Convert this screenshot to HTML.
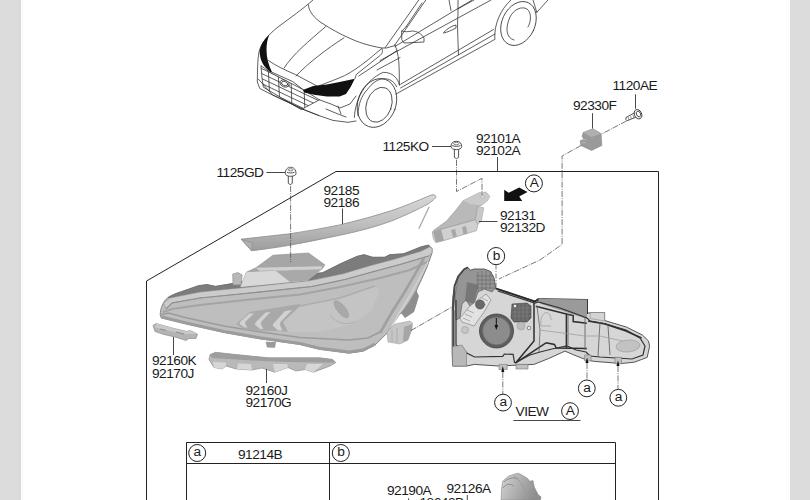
<!DOCTYPE html>
<html><head><meta charset="utf-8"><style>
html,body{margin:0;padding:0;width:810px;height:500px;overflow:hidden;background:#fff}
.strip{position:absolute;top:0;height:500px;background:#dcdcdc}
svg{position:absolute;left:0;top:0}
text{font-family:"Liberation Sans",sans-serif;font-size:13.7px;letter-spacing:-0.5px;fill:#1a1a1a}
</style></head><body>
<div class="strip" style="left:0;width:21px;background:linear-gradient(90deg,#dcdcdc 0,#dcdcdc 17px,#d8d8d8 21px)"></div><div class="strip" style="left:22px;width:1px;background:#f8f8f8"></div>
<div class="strip" style="left:786px;width:4px;background:#fcfcfc"></div><div class="strip" style="left:790px;width:20px"></div>
<svg width="810" height="500" viewBox="0 0 810 500">

<!-- car -->
<g fill="none" stroke="#2a2a2a" stroke-width="0.75" stroke-linejoin="round" stroke-linecap="round">
<path d="M313,0 C303,9 290,18 278,27 C268,35 261,43 259,52 C257.5,60 257.5,72 257.3,82 L259.8,88.5 L272.5,95 L303,109.3 L319,115.6 L333,120.4 L348,122.3 L356,121"/>
<path d="M258.3,79 L272.4,94.8 L302.8,109.2 L318.8,115.6"/>
<path d="M308.4,4.8 C308.5,11 314,18 322,23.2 C331,29 340,34 350,38.4 C358,42 366,45 381.6,48 L386.4,48 L394.8,45.6"/>
<path d="M325.6,26.7 C310,40 292,55 284.1,68.1"/>
<path d="M344,37.8 C328,48 308,63 296,76"/>
<path d="M268.5,60.5 C276,66 285,70 295.6,74.6 L317.5,86.3 C328,82.5 338,78.5 344.5,75.7 C352,72 360,66 365,62.2 C370,58.5 375,54 378,51.5 L381.4,49"/>
<path d="M271,71.8 L292.8,81.6 L302.6,89.3"/>
<path d="M261,66 L262,78 L263.4,87.2 L301.2,109.6 L319.4,99.8 L302.6,89.3 L271,73 Z"/>
<clipPath id="grl"><path d="M261,66 L262,78 L263.4,87.2 L301.2,109.6 L319.4,99.8 L302.6,89.3 L271,73 Z"/></clipPath>
<g clip-path="url(#grl)"><path d="M250,68 L330,106 M250,73 L330,111 M250,78 L330,116 M250,83 L330,121 M250,88 L330,126 M250,63 L330,101 M268,65 L270,100 M278,70 L280,106 M291,76 L292,112 M304,84 L305,115"/></g>
<ellipse cx="284.6" cy="83.6" rx="4.8" ry="3.3" transform="rotate(22 284.6 83.6)" fill="#fff"/><ellipse cx="284.6" cy="83.6" rx="3.2" ry="2.1" transform="rotate(22 284.6 83.6)"/>
<path d="M319.4,99.8 L331,104 L340,108 L350,104 L356,96 M326,109 L338,114 L346,117 M338,106 L341,114"/>
<path d="M381.6,48 C383,50 383,53 380.4,55.2 L356.4,74.4 L355,78.5 M397.2,50.4 L358.8,76 M400,57.6 L377,70"/>
<path d="M385.2,47.6 L418.8,0 M395,44.8 L425.8,0 M406.2,26.6 L422,3"/>
<path d="M395,46.5 L472,0 M380,60.6 L491,0 M457.8,8.9 L474,0"/>
<path d="M395,44.8 C398,52 399,60 399.2,70 L399.4,85"/>
<path d="M458,0 L458,14 C457,25 458,40 458.5,54.8 M449,0 L451,10.4"/>
<path d="M400.5,84.3 L493.5,29.5 M400.5,88 L495,34 M396,94 L495,39.3"/>
<path d="M354.4,117.4 C355,100 365,80 383.2,72.4 C392,72 398,78 399.4,85"/>
<path d="M358,115.6 C358,104 362,95 367,90 C372,83 378,79 383.2,78.7 C389,78.5 394,81 396.7,86.8"/>
<ellipse cx="377" cy="103" rx="19" ry="25" transform="rotate(20 377 103)"/>
<ellipse cx="379" cy="104.8" rx="12.5" ry="18" transform="rotate(20 379 104.8)"/>
<path d="M494.8,38.5 C494,25 500,10 510.9,0 M536.8,12.3 L548,0 M533,0 L536.8,12.3"/>
<ellipse cx="518.5" cy="23.5" rx="16.5" ry="23" transform="rotate(25 518.5 23.5)"/>
<path d="M514,40 C506,38 505,28 510,17 C514,9 522,6 527,9 C532,13 531,22 528,27" />
<path d="M402,31 C404,32 408,32 412,31 C417,31 422,34 424,38 L424,42 L404,43 L402,40 Z M402,31 L406.2,26.6"/>
<path d="M444,32 C448,28 452,26 456,25 L456,28 C452,30 448,32 444,33 Z"/>
</g>
<path d="M269.3,34.8 C263.5,40 260,46 259.7,52 C259.8,60 263.5,67 270.8,72.4 L271.8,71.4 C268.5,65 266.6,58 266.5,50 C266.6,44 267.3,39.5 269.3,34.8 Z" fill="#111"/>
<path d="M302.8,90 L313.2,86 L326.8,84.4 L339.6,82 L354.8,78.8 L350.8,86.8 L346,94 L339.6,96.4 L326.8,96.4 L314,94.8 L304.4,92.4 Z" fill="#111"/>


<!-- trim strip 92185 -->
<defs>
<linearGradient id="gStrip" x1="0" y1="0" x2="0" y2="1">
<stop offset="0" stop-color="#d8d8d8"/><stop offset="0.5" stop-color="#c0c0c0"/><stop offset="1" stop-color="#9c9c9c"/>
</linearGradient>
<linearGradient id="gLamp" x1="0" y1="0" x2="0.2" y2="1">
<stop offset="0" stop-color="#c8c8c8"/><stop offset="1" stop-color="#b4b4b4"/>
</linearGradient>
</defs>
<path d="M241.2,239.2 C260,237 275,235.5 287.9,234 C305,231.5 322,228.5 339.7,224.9 C360,220 376,215.5 391.6,210.6 C405,206 417,201 427.9,196.4 L432,194.8 C435,194.5 436.5,196 435.6,197.5 C434.5,199 433.5,199.8 433,200.3 C431,201.8 429.5,203 427.9,204.1 C417,210 405,215.5 391.6,221 C375,227 358,231.5 339.7,235.3 C322,239 305,242.5 287.9,245.6 C273,248 262,249.5 251.6,250.8 Z" fill="url(#gStrip)" stroke="#8a8a8a" stroke-width="0.8"/>
<path d="M241.2,239.2 L251.6,250.8 L252.5,243 Z" fill="#b0b0b0" stroke="#8a8a8a" stroke-width="0.6"/>
<path d="M429.2,206.7 L418.8,228.8" stroke="#a8a8a8" stroke-width="1.3" fill="none"/>

<!-- headlamp main -->
<path d="M160.2,314.8 C160.5,308 163,301.5 168,297.5 L172.3,295 L176.7,293.3 L198.2,286.3 L206.8,284.7 L215.5,286.4 L231,283.8 L245,281 L300,275 L322.5,272.8 L340,264 L357,256.4 L364,254.7 L372.6,257.3 L384.7,257.3 L389.9,254.7 L403.7,253.8 L421,246.9 L428.6,245.1 L432.1,248.6 L432,253 L427,267 L421.6,279.4 L417.4,288 L414.3,298 L408.4,305.8 L398.5,315.7 L386.7,333.5 L374.8,345.3 L363,351.2 L349.1,353.2 L319.5,349.3 L300,344.4 L261,338.9 L224,332.4 L187,324 L161.1,317.6 Z" fill="#bebebe" stroke="#7a7a7a" stroke-width="0.9"/>
<!-- dark housing top -->
<path d="M168,297.5 L176.7,293.3 L198.2,285.6 L206.8,284.4 L215.5,286.4 L231,283.8 L245,281 L300,275 L322.5,272.8 L340,264 L357,256.4 L364,254.7 L372.6,257.3 L384.7,257.3 L389.9,254.7 L403.7,253.8 L421,246.9 L428.6,245.1 L429.6,246.9 L421,251.2 L395,259 L369.1,265.9 L343.2,273.7 L310.4,280.6 L250,287 L200,292 L172,297.5 Z" fill="#7c7c7c" stroke="#6a6a6a" stroke-width="0.6"/>
<!-- chrome upper band -->
<path d="M163.5,303 L170,298 L200,292 L250,287 L310.4,280.6 L343.2,273.7 L369.1,265.9 L395,259 L421,251.2 L429.6,246.9 L432.1,248.6 L432,253 L428.5,256 L400,264.5 L372,272 L345,279.5 L312,286.5 L250,293 L200,298 L172,303 L166,309 Z" fill="#cbcbcb" stroke="#8f8f8f" stroke-width="0.6"/>
<path d="M166,309 L172,303 L200,298 L250,293 L312,286.5 L345,279.5 L372,272 L400,264.5 L428.5,256" fill="none" stroke="#8e8e8e" stroke-width="1.1"/>
<path d="M163,312 L172,309 L200,305 L250,299.5 L300,294.5 L340,287 L380,278 L410,270 L427,262" fill="none" stroke="#a4a4a4" stroke-width="2.2"/>
<!-- lens lower rim -->
<path d="M160.2,314.8 L168.5,313 L187,318 L224,326 L261,332 L300,337.5 L349.1,340 L368,338 L380,332" fill="none" stroke="#9c9c9c" stroke-width="1.6"/>
<path d="M161.5,317 L187,323.2 L224,331.5 L261,338 L300,343.5 L319.5,348.3 L349,352 L363,350 L375,344" fill="none" stroke="#9c9c9c" stroke-width="3"/>
<!-- right bezel -->
<path d="M380,333 L392,312 L404,293 L414,276 L424,258" fill="none" stroke="#a0a0a0" stroke-width="2.6"/>
<path d="M387,335 L398,315 L409,297 L418,281 L428,262" fill="none" stroke="#d2d2d2" stroke-width="1.5"/>
<path d="M401,313 L409,302 L416,290 L419,296 L416,306 L414,312 L405,318 Z" fill="#8e8e8e"/>
<!-- chevrons -->
<path d="M236,324 L250,312 L300,304 L300,332 L246,330 Z" fill="#a9a9a9"/>
<g fill="#d2d2d2">
<path d="M239.3,323.7 Q240,321.5 242,320 L249.5,313.5 L254,313.5 L245.5,321.5 Q244.5,323.5 245.8,325 L247.5,327.5 L244.4,327.4 Z"/>
<path d="M254.8,324.5 Q255.5,322 257.5,320.5 L265.5,312.5 L270.5,312 L261.5,321.5 Q260.3,323.8 261.5,325.5 L263.5,329 L260,329 Z"/>
<path d="M272.6,325.5 Q273.3,323 275.5,321.5 L285,311 L292,310 L280.5,322 Q279.3,324.5 280.5,326.5 L282.5,330.5 L278,330.5 Z"/>
</g>
<path d="M283,322 L300,306 L340,298 L375,286 L380,290 L372,310 L350,325 L320,332 L288,332 Z" fill="#c4c4c4"/>
<path d="M300,306 L340,298 L375,286" fill="none" stroke="#adadad" stroke-width="1.5"/>
<ellipse cx="341.3" cy="309.2" rx="10.5" ry="4" fill="#a9a9a9" stroke="#999" stroke-width="0.6" transform="rotate(51 341.3 309.2)"/>
<path d="M330,315 C335,322 345,326 355,322" fill="none" stroke="#b0b0b0" stroke-width="1"/>
<!-- small tab / bracket left on top -->
<path d="M232.7,274 L238,272.6 L242.2,275 L241,284.8 L233,285 Z" fill="#b8b8b8" stroke="#8a8a8a" stroke-width="0.6"/>
<!-- inner cover top piece -->
<path d="M240.4,287 L246.3,272.2 L255.9,267.8 L273,255.2 L308.5,253 L324.8,264.8 L322.6,268.5 L307,280.4 Z" fill="#a6a6a6" stroke="#8e8e8e" stroke-width="0.6"/>
<path d="M246.3,272.2 L322.6,268.5 L307,280.4 L240.4,287 Z" fill="#d8d8d8"/>
<path d="M276,271 L322.6,268.5 L307,280.4 L290,282 Z" fill="#a9a9a9"/>
<path d="M255.9,267.8 L322.6,266.3 L321,269.2 L259.5,270.7 Z" fill="#d0d0d0"/>
<!-- bottom tab -->
<path d="M265.6,341.7 L276,342 L275,347.8 L267,347.5 Z" fill="#9a9a9a"/>
<!-- lamp right bracket -->
<path d="M387,332 L395,324 L410,321 L412.5,323 L412,329 L408,340 L400,344 L388,342 Z" fill="#c6c6c6" stroke="#999" stroke-width="0.5"/>
<path d="M404,327 L412,324 L412,329 L408,340 L403,342 Z" fill="#a6a6a6"/>
<path d="M392,330 L392,342 M397,328 L397,343" stroke="#a8a8a8" stroke-width="0.8"/>

<!-- small bracket 92160K -->
<path d="M153,325.5 L156,323.5 L172,328 L187,331.5 L190,330.5 L197.5,334 L196,338.5 L189,338.5 L186,340.5 L175,337 L164,334.5 L155,331.5 Z" fill="#b4b4b4" stroke="#8c8c8c" stroke-width="0.7"/>
<path d="M156,323.5 L172,328 L187,331.5 L190,330.5 L197.5,334 L186,334 L172,331.5 L155,327.5 Z" fill="#c8c8c8"/>
<path d="M160,329 L166,330.5 M176,332 L184,334" stroke="#8f8f8f" stroke-width="1.2"/>
<!-- bracket 92160J -->
<path d="M209,359.4 L210,354.6 L215.4,352.3 L236.3,354.6 L268.4,357.8 L300,357.8 L319.8,357.8 L332.6,359.4 L335.8,362.6 L330,366 L313.4,372.2 L305,369.5 L296,371 L288,367.5 L274.8,372.2 L262,368 L252,370 L236.3,369 L226,366 L222,369 L213.8,367.4 Z" fill="#b9b9b9" stroke="#8c8c8c" stroke-width="0.7"/>
<path d="M210,354.6 L215.4,352.3 L236.3,354.6 L268.4,357.8 L319.8,357.8 L332.6,359.4 L335.8,362.6 L320,362.5 L290,362 L262,361 L236,359.5 L212,358 Z" fill="#9e9e9e"/>
<g fill="#d6d6d6"><path d="M213,362 L226,362.5 L226,366 L222,369 L213.8,367.4 Z"/><path d="M238,363.5 L251,364 L252,370 L237,369 Z"/><path d="M273,364 L287,364 L288,367.5 L274.8,372.2 Z"/><path d="M307,364 L323,364 L313.4,372.2 L305,369.5 Z"/></g>
<!-- bracket 92131 -->
<path d="M433.4,230.6 L446.6,221 L456,210 L463.4,200.6 L479,192.8 L486.2,192.2 L489.8,196.4 L487.4,200.6 L481.4,205.4 L477.8,206.6 L475.4,219.8 L446,228 Z" fill="#b9b9b9" stroke="#8e8e8e" stroke-width="0.6"/>
<path d="M463.4,200.6 L479,192.8 L486.2,192.2 L489.8,196.4 L487.4,200.6 L481.4,205.4 L470,204 Z" fill="#cacaca"/>
<path d="M477.8,206.6 L483.8,207.8 L481.4,221 L477.8,224.6 L475.4,219.8 Z" fill="#c8c8c8" stroke="#9a9a9a" stroke-width="0.5"/>
<path d="M432.2,231.8 L475.4,219.8 L477.8,224.6 L476.6,230.6 L445.4,240.2 L435.8,242.6 L433.4,239 Z" fill="#d0d0d0" stroke="#959595" stroke-width="0.6"/>
<path d="M433,231.5 L441,229.5 L444,240.5 L436,242.5 Z" fill="#a4a4a4"/>
<path d="M451,230 L455,229 L457,236.5 L453,237.5 Z M462,227 L466,226 L467.5,233.5 L463.5,234.5 Z" fill="#a8a8a8"/>
<ellipse cx="482.6" cy="197" rx="1.6" ry="1.2" fill="#eee" stroke="#888" stroke-width="0.4"/>
<!-- bracket 92330F -->
<path d="M583.2,132.4 L592.8,128.8 L601.2,133.6 L601.8,145.6 L591.6,150.4 L580.8,145.6 L580.2,140.8 L584,139 L582,136.5 Z" fill="#9a9a9a" stroke="#7a7a7a" stroke-width="0.5"/>
<path d="M583.2,132.4 L592.8,128.8 L601.2,133.6 L591.6,137 Z" fill="#b0b0b0"/>
<path d="M582,140 L586,139.5 M581.5,143 L586,142.5" stroke="#c0c0c0" stroke-width="0.7"/>

<!-- bolts -->
<g fill="#fff" stroke="#333" stroke-width="0.85">
<path d="M288.3,175 V183.3 Q290.3,186 292.3,183.3 V175"/>
<path d="M285.3,173.5 C285.3,169.5 287.5,167.3 290.6,167.3 C293.7,167.3 296,169.5 296,173.5 C296,175.3 293.5,176.3 290.6,176.3 C287.7,176.3 285.3,175.3 285.3,173.5 Z"/>
<path d="M287,172.2 C288.5,173.2 292.8,173.2 294.4,172.2" fill="none"/>
<ellipse cx="290.6" cy="169.8" rx="2.4" ry="1.1" fill="none" stroke-width="0.6"/>
<path d="M454.4,149 V157.3 Q456.5,160.2 458.6,157.3 V149"/>
<path d="M451,146.5 C451,143 453,141.3 456.3,141.3 C459.6,141.3 461.7,143 461.7,146.5 C461.7,148.5 459,149.6 456.3,149.6 C453.5,149.6 451,148.5 451,146.5 Z"/>
<path d="M452.2,145.6 C454,146.6 458.8,146.6 460.5,145.6" fill="none"/>
<ellipse cx="456.3" cy="143.6" rx="2.6" ry="1.2" fill="none" stroke-width="0.6"/>
<path d="M636,112 L626,117.5 Q625,119.5 627,120.8 L637.5,116.5"/>
<ellipse cx="638" cy="114.2" rx="3.6" ry="4.9" transform="rotate(-25 638 114.2)"/>
<ellipse cx="638.5" cy="114" rx="2" ry="3" transform="rotate(-25 638.5 114)"/>
</g>
<path d="M628,117 L629,120 M630.5,116 L631.5,119 M633,115 L634,118" stroke="#555" stroke-width="0.6"/>

<!-- dashed lines -->
<g fill="none" stroke="#555" stroke-width="0.8" stroke-dasharray="6,1.2,1,1.2">
<path d="M290.6,186 V262.4"/>
<path d="M456.5,160 V191.5 L482,178.3 V195"/>
<path d="M626.4,121 L602.4,133.6 M580.8,145.6 L562.1,156 V244.4 L540,260 L498.8,279"/>
<path d="M411,330.5 L452,307"/>
</g>
<path d="M496,264.5 V326" fill="none" stroke="#555" stroke-width="0.8" stroke-dasharray="5,1.5,1,1.5"/>

<!-- arrow -->
<path d="M504.2,201 L504.2,189.7 L508.7,192.7 L519.2,187.5 L527.5,192 L519.2,196.5 L522.2,201 Z" fill="#111"/>


<!-- rear view assembly -->
<g>
<path d="M452.2,310 L453,296 L454.6,286 L458.2,276.4 L464.2,269.2 L467.8,267.4 L470.2,270.4 L473.8,269.2 L484.6,269.2 L490.6,271.6 L494.2,278.8 L495.4,288 L497.7,288.6 L535,301 L538,298.8 L587,299.6 L587,313 L590.2,313 L590.2,312.5 L604.6,312.5 L604.6,320.5 L626.3,327 L642.4,335 L648.5,341 L649.6,346.2 L647.2,357.4 L641.5,359.5 L634.3,362.2 L621.5,363.5 L594.2,361.4 L585.5,359.5 L574,355 L565,351.1 L548.7,358.5 L533.9,364.4 L498.3,366 L474.6,364.4 L466.5,366 L452.6,366 L452.2,352 Z" fill="#d6d6d6" stroke="#555" stroke-width="1"/>
<!-- top-left dark cap -->
<path d="M455,296 L458.2,276.4 L464.2,269.2 L467.8,267.4 L470.2,270.4 L473.8,269.2 L484.6,269.2 L490.6,271.6 L494.2,278.8 L495.4,288 L492,292 L484,289 L478,292 L474,304 L470,306 L466,300 L462,304 L460,318 L456,320 Z" fill="#959595" stroke="#555" stroke-width="0.6"/>
<path d="M467,282 L478,285 L474,304 L465,301 Z" fill="#777"/>
<g stroke="#6c6c6c" stroke-width="0.7" fill="none"><path d="M478,272 V292 M482,271 V291 M486,271 V290 M490,272 V289 M476,276 H494 M476,280 H494.5 M476,284 H495 M476,288 H495"/></g>
<path d="M453,310 L454.6,286 L458.2,276.4 L464.2,269.2 L467.8,267.4" fill="none" stroke="#4a4a4a" stroke-width="2"/>
<path d="M453.5,310 L453.5,350" fill="none" stroke="#4a4a4a" stroke-width="2"/>
<!-- label plate -->
<path d="M460,318 L470,306 L486,294 L491,300 L484,312 L474,326 L462,322 Z" fill="#e2e2e2" stroke="#777" stroke-width="0.6"/>
<g stroke="#888" stroke-width="0.6"><path d="M463,318 L470,321 M465,314 L472,317 M467,310 L474,313 M482,298 L488,301 M480,302 L486,305"/></g>
<circle cx="480" cy="304.5" r="4.5" fill="#6a6a6a" stroke="#444" stroke-width="0.6"/>
<circle cx="465" cy="330" r="3.5" fill="#c6c6c6" stroke="#999" stroke-width="0.6"/>
<path d="M495.5,288.5 L535,301.5 L538,299.5 L587,300 L587,314" fill="none" stroke="#2a2a2a" stroke-width="1.8"/>
<path d="M534,303 L534,341 L515.4,363.2 M535.8,306.3 L566.4,314 L573.2,315.6 L573.2,321.6 L586.8,323.3 M566.4,314 L566.4,348 M546,342.8 L554.5,344.5 L556.2,348 L586.8,348.5 M515.4,363.2 L546,342.8 M588,321 L605,324 L626,331 L641.5,338" fill="none" stroke="#2e2e2e" stroke-width="1.5"/>
<path d="M541,326 C540,318 543,313 546,312.5 C549,312.5 551,316 551,320 M541,326 L551,326" fill="none" stroke="#999" stroke-width="0.7"/>
<!-- dark top triangle region -->
<path d="M538,298.8 L587,299.6 L587,318.9 L560,310 L541,304 Z" fill="#9a9a9a"/>
<!-- inner dark outline -->
<path d="M456,300 L456,345 L466,352 L467.2,353.3 L474.6,357 L502.8,356.3 L504.3,354 L513.1,354.4 L514.6,363 M497.7,291 L535,303 L538,302 L560,308 L587,318 L590,321 L604.6,323.5 L626,330 L640,338 L645,346 L643,355 L632,359 L600,357 L590,356 L586,352 L576,350 L567,346 L552,349 L540,352 L530,355 L514.6,363" fill="none" stroke="#333" stroke-width="1.2"/>


<path d="M537,306 L540,330 L539,352" fill="none" stroke="#666" stroke-width="0.8"/>
<path d="M568,314 L568,345 M585,318 L585,350 M600,322 L598,356 M608,326 L610,355" fill="none" stroke="#666" stroke-width="0.9"/>
<path d="M540,330 L585,336 L600,336 L640,345" fill="none" stroke="#999" stroke-width="0.7"/>
<!-- mid dark module -->
<path d="M512,304 L527,303 L531,306 L531,318 L527,322 L514,322 L511,318 Z" fill="#666" stroke="#444" stroke-width="0.6"/>
<g stroke="#888" stroke-width="0.5"><path d="M515,304 V321 M519,304 V321 M523,304 V321 M527,304 V321 M512,308 H531 M512,312 H531 M512,316 H531"/></g>
<circle cx="515" cy="306" r="1.8" fill="#eee" stroke="#333" stroke-width="0.5"/>
<circle cx="521" cy="326" r="4" fill="#bcbcbc" stroke="#999" stroke-width="0.5"/>
<circle cx="529" cy="328" r="1.8" fill="#eee" stroke="#333" stroke-width="0.5"/>
<!-- rightmost oval -->
<ellipse cx="628" cy="346" rx="12" ry="6" fill="#c2c2c2" stroke="#999" stroke-width="0.6" transform="rotate(-5 628 346)"/>
<!-- bumps -->
<path d="M590.2,313 L590.2,312.5 L604.6,312.5 L604.6,321 L590.2,318.5 Z" fill="#d4d4d4" stroke="#888" stroke-width="0.6"/>
<path d="M452.4,346.7 L462,345 L466.5,352 L466.5,366 L452.6,366 Z" fill="#b8b8b8" stroke="#777" stroke-width="0.6"/>
<!-- big socket circle -->
<circle cx="496.5" cy="331" r="17" fill="#5e5e5e" stroke="#444" stroke-width="0.8"/>
<circle cx="496.5" cy="331" r="14" fill="#8c8c8c" stroke="#666" stroke-width="0.8"/>
<path d="M496.3,318 V326" stroke="#111" stroke-width="1"/>
<path d="M494.5,325 L498.1,325 L496.3,330 Z" fill="#111"/>
<!-- bottom tabs -->
<path d="M499,364.4 L507.2,364.4 L507.2,369.6 L499,369.6 Z M516,364.4 L528,364.4 L528,369 L516,369 Z M584.6,355 L591,355 L591,361 L584.6,361 Z M615,357.4 L621.5,357.4 L621.5,363.8 L615,363.8 Z" fill="#c0c0c0" stroke="#777" stroke-width="0.6"/>
</g>
<!-- up arrows -->
<g fill="#111">
<path d="M501.3,372 L504.3,372 L502.8,366 Z"/>
<path d="M585.5,363 L588.5,363 L587,357.4 Z"/>
<path d="M616.5,366 L619.5,366 L618,360.6 Z"/>
</g>
<g fill="none" stroke="#555" stroke-width="0.8" stroke-dasharray="6,1.2,1,1.2">
<path d="M502.8,372 V394"/>
<path d="M587,363 V380"/>
<path d="M618,366 V389.5"/>
</g>

<!-- socket bottom -->
<defs><linearGradient id="gSock" x1="0" y1="0" x2="1" y2="0.3"><stop offset="0" stop-color="#d6d6d6"/><stop offset="0.45" stop-color="#b4b4b4"/><stop offset="1" stop-color="#8e8e8e"/></linearGradient></defs>
<path d="M501.1,500 L501.5,490 L502.6,481.3 L508.5,476.1 L515,474 L518.1,473.2 L521.1,474.6 L527,478 L530,481.3 L533,480.5 L534.4,487.2 L538.1,494.6 L541.1,496.9 L540.4,500 Z" fill="url(#gSock)" stroke="#8a8a8a" stroke-width="0.6"/>
<path d="M503,488 C506,484 510,483 514,486 M504,482 C508,478 514,477 518,479" fill="none" stroke="#888" stroke-width="0.9"/>
<path d="M514,476 C520,480 526,490 528,500" fill="none" stroke="#9a9a9a" stroke-width="1"/>

<!-- frame -->
<g fill="none" stroke="#222" stroke-width="1">
<path d="M146.5,500 V281 L336,171.5 H658.5 V500"/>
<path d="M186.5,500 V442.5 H615.5 V500 M186.5,463.5 H615.5 M329.5,442.5 V500"/>
</g>
<!-- leaders -->
<g fill="none" stroke="#333" stroke-width="0.9">
<path d="M635.5,94.3 V108.7 M592.5,113.2 V128.5 M432,146.5 H451 M497.5,157 V171.3 M266.4,172.5 H285 M342.5,208.5 V224 M479,221.5 H497.5 M173.5,337 V355 M266.5,369 V383 M513.3,420.5 H580.5 M408.6,498.3 V500 M467.3,495 V500"/>
</g>
<!-- circles -->
<g fill="#fff" stroke="#222" stroke-width="1">
<circle cx="197.2" cy="453" r="8.5"/>
<circle cx="340.8" cy="453" r="8.5"/>
<circle cx="533.9" cy="183.4" r="8.5"/>
<circle cx="496.1" cy="256.1" r="8.6"/>
<circle cx="503" cy="402.6" r="8.4"/>
<circle cx="586.8" cy="388.4" r="8.4"/>
<circle cx="618.3" cy="397.8" r="8.4"/>
<circle cx="570" cy="411.1" r="8.4"/>
</g>
<g text-anchor="middle">
<text x="197.1" y="456.3">a</text>
<text x="340.9" y="456.3">b</text>
<text x="534" y="186.8">A</text>
<text x="496.2" y="259.6">b</text>
<text x="503.1" y="406">a</text>
<text x="586.9" y="391.8">a</text>
<text x="618.4" y="401.2">a</text>
<text x="570.1" y="414.5">A</text>
</g>
<!-- labels -->
<text x="612.5" y="90.4">1120AE</text>
<text x="573" y="110.4">92330F</text>
<text x="382.5" y="151.4">1125KO</text>
<text x="476" y="143.4">92101A</text>
<text x="476" y="155.4">92102A</text>
<text x="216.5" y="177.4">1125GD</text>
<text x="323.5" y="194.9">92185</text>
<text x="323.5" y="207.1">92186</text>
<text x="500" y="220.4">92131</text>
<text x="500" y="232.4">92132D</text>
<text x="152" y="365.4">92160K</text>
<text x="152" y="377.9">92170J</text>
<text x="245.5" y="394.9">92160J</text>
<text x="245.5" y="407.4">92170G</text>
<text x="515.5" y="416.4">VIEW</text>
<text x="238" y="458.9">91214B</text>
<text x="387" y="495.4">92190A</text>
<text x="446.5" y="492.9">92126A</text>
<text x="419.5" y="507.4">18642B</text>
</svg>
</body></html>
